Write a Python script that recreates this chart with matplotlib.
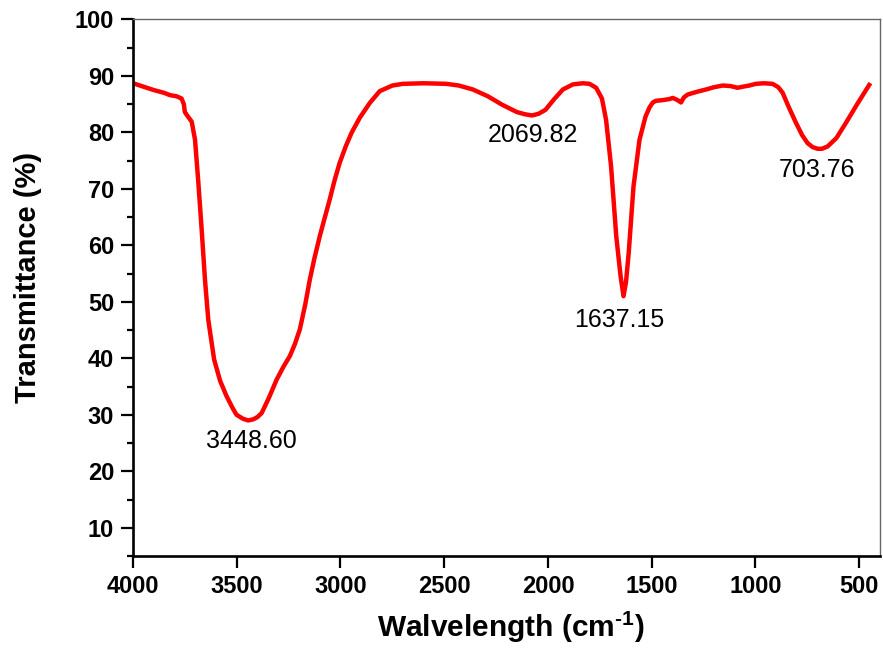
import matplotlib
matplotlib.use('Agg')
import matplotlib.pyplot as plt
from matplotlib.ticker import MultipleLocator

plt.rcParams['font.family'] = ['Liberation Sans', 'DejaVu Sans']
plt.rcParams['mathtext.fontset'] = 'custom'
plt.rcParams['mathtext.bf'] = 'Liberation Sans:bold'
plt.rcParams['mathtext.rm'] = 'Liberation Sans:bold'
plt.rcParams['mathtext.default'] = 'bf'

# FTIR spectrum (wavenumber, transmittance %)
wavenumber = [4000, 3950, 3900, 3850, 3822, 3790, 3766, 3755, 3750, 3735, 3717,
              3701, 3686, 3669, 3653, 3637, 3609, 3580, 3549, 3520, 3501, 3470,
              3445, 3420, 3400, 3380, 3345, 3308, 3275, 3244, 3220, 3196, 3170,
              3148, 3125, 3100, 3075, 3052, 3030, 3004, 2975, 2947, 2907, 2859,
              2811, 2750, 2699, 2600, 2490, 2430, 2362, 2290, 2221, 2150, 2110,
              2077, 2045, 2012, 1970, 1928, 1880, 1832, 1800, 1768, 1740, 1720,
              1696, 1671, 1650, 1636, 1624, 1611, 1588, 1559, 1530, 1511, 1495,
              1479, 1450, 1415, 1399, 1380, 1367, 1359, 1345, 1327, 1300, 1271,
              1238, 1200, 1158, 1120, 1086, 1060, 1030, 998, 960, 918, 890, 869,
              840, 805, 775, 749, 725, 701, 680, 653, 610, 564, 510, 452]
transmittance = [88.7, 88.1, 87.5, 87.0, 86.6, 86.4, 86.0, 85.0, 83.6, 82.8, 81.9,
                 78.7, 71.6, 62.8, 53.9, 46.8, 39.8, 36.0, 33.3, 31.2, 30.0, 29.3,
                 29.0, 29.2, 29.6, 30.3, 33.0, 36.2, 38.5, 40.4, 42.5, 45.1, 49.5,
                 53.9, 57.8, 61.6, 65.0, 68.1, 71.3, 74.6, 77.5, 79.9, 82.6, 85.2,
                 87.3, 88.3, 88.6, 88.7, 88.6, 88.3, 87.6, 86.4, 84.9, 83.6, 83.2,
                 83.0, 83.3, 84.0, 85.9, 87.6, 88.5, 88.7, 88.6, 87.9, 86.0, 82.2,
                 74.0, 61.6, 54.5, 51.0, 53.5, 58.7, 70.4, 78.7, 82.8, 84.4, 85.3,
                 85.6, 85.7, 85.9, 86.1, 85.8, 85.5, 85.3, 86.2, 86.7, 87.0, 87.3,
                 87.6, 88.0, 88.3, 88.2, 87.9, 88.1, 88.3, 88.6, 88.7, 88.6, 88.0,
                 87.0, 84.5, 81.7, 79.5, 78.1, 77.4, 77.1, 77.1, 77.5, 79.0, 81.7,
                 85.0, 88.4]

peak_labels = ['3448.60', '2069.82', '1637.15', '703.76']
label_x = [3429, 2074, 1656, 703]
label_y = [25.3, 79.6, 46.8, 73.4]

fig = plt.figure(figsize=(8.83, 6.48), dpi=100)
ax = fig.add_axes([0.1506, 0.142, 0.846, 0.828])

ax.plot(wavenumber, transmittance, color='#ff0000', linewidth=3.2)

for txt, lx, ly in zip(peak_labels, label_x, label_y):
    ax.text(lx, ly, txt, fontsize=18, ha='center', va='center', color='black')

ax.set_xlim(4000, 400)
ax.set_ylim(5, 100)
ax.set_xticks([4000, 3500, 3000, 2500, 2000, 1500, 1000, 500])
ax.yaxis.set_major_locator(MultipleLocator(10))
ax.yaxis.set_minor_locator(MultipleLocator(5))
ax.set_yticks([10, 20, 30, 40, 50, 60, 70, 80, 90, 100])

ax.tick_params(axis='both', which='major', direction='out', length=8.5, width=1.6,
               labelsize=17, pad=5)
ax.tick_params(axis='y', which='minor', direction='out', length=4, width=1.6)
for lbl in ax.get_xticklabels() + ax.get_yticklabels():
    lbl.set_fontweight('bold')

ax.spines['left'].set_linewidth(1.9)
ax.spines['bottom'].set_linewidth(1.9)
ax.spines['top'].set_linewidth(1.0)
ax.spines['right'].set_linewidth(1.0)
ax.spines['top'].set_color('#666666')
ax.spines['right'].set_color('#666666')

ax.set_xlabel(r'Walvelength (cm$^{\text{-1}}$)', fontsize=21.5, fontweight='bold', va='center')
ax.xaxis.set_label_coords(0.505, -0.133)
ax.set_ylabel('Transmittance (%)', fontsize=21, fontweight='bold', va='center')
ax.yaxis.set_label_coords(-0.141, 0.52)

fig.savefig('out.png', dpi=100)
